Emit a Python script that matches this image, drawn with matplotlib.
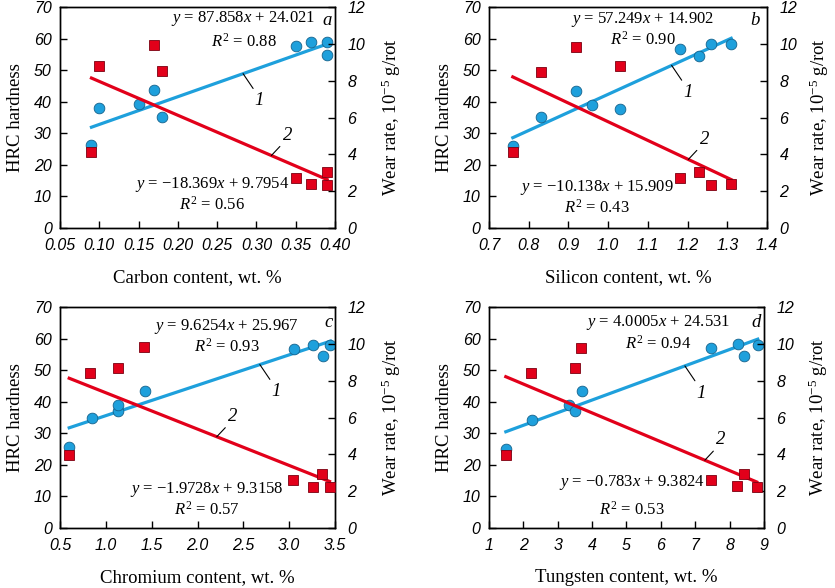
import numpy as np
import matplotlib
matplotlib.use("Agg")
import matplotlib.pyplot as plt
from matplotlib.ticker import FormatStrFormatter, MultipleLocator

plt.rcParams["font.family"] = "Liberation Serif"
plt.rcParams["mathtext.fontset"] = "custom"
plt.rcParams["mathtext.rm"] = "Liberation Serif"
plt.rcParams["mathtext.it"] = "Liberation Serif:italic"

BLUE = "#1ea0dc"
RED = "#e2001a"

# --- data ---
carbon_x_hrc = [0.09, 0.10, 0.15, 0.17, 0.18, 0.35, 0.37, 0.39, 0.39]
carbon_hrc = [26.2, 37.9, 39.3, 43.6, 35.2, 57.5, 58.8, 58.8, 54.8]
carbon_x_wear = [0.09, 0.10, 0.17, 0.18, 0.35, 0.37, 0.39, 0.39]
carbon_wear = [4.13, 8.81, 9.94, 8.54, 2.70, 2.37, 3.02, 2.35]

silicon_x_hrc = [0.76, 0.83, 0.92, 0.96, 1.03, 1.18, 1.23, 1.26, 1.31]
silicon_hrc = [26.1, 35.1, 43.5, 39.1, 37.7, 56.8, 54.5, 58.4, 58.3]
silicon_x_wear = [0.76, 0.83, 0.92, 1.03, 1.18, 1.23, 1.26, 1.31]
silicon_wear = [4.11, 8.48, 9.83, 8.80, 2.69, 3.03, 2.35, 2.38]

chromium_x_hrc = [0.60, 0.85, 1.13, 1.13, 1.43, 3.05, 3.26, 3.37, 3.45]
chromium_hrc = [25.6, 34.8, 37.1, 38.9, 43.3, 56.8, 58.0, 54.5, 58.0]
chromium_x_wear = [0.60, 0.83, 1.13, 1.42, 3.04, 3.26, 3.36, 3.44]
chromium_wear = [3.95, 8.44, 8.67, 9.81, 2.61, 2.25, 2.93, 2.25]

tungsten_x_hrc = [1.49, 2.24, 3.32, 3.50, 3.70, 7.47, 8.25, 8.42, 8.82]
tungsten_hrc = [25.1, 34.3, 38.9, 37.2, 43.3, 57.1, 58.2, 54.4, 58.0]
tungsten_x_wear = [1.49, 2.22, 3.50, 3.67, 7.45, 8.23, 8.43, 8.79]
tungsten_wear = [3.95, 8.40, 8.67, 9.77, 2.61, 2.29, 2.93, 2.25]

# linear fits: hardness (1) and wear rate (2)
hrc_slope = [87.858, 57.249, 9.6254, 4.0005]
hrc_icpt = [24.021, -14.902, 25.967, 24.531]
wear_slope = [-18.369, -10.138, -1.9728, -0.783]
wear_icpt = [9.7954, 15.909, 9.3158, 9.3824]

hrc_eq = ["$y$ = 87.858$x$ + 24.021", "$y$ = 57.249$x$ + 14.902",
          "$y$ = 9.6254$x$ + 25.967", "$y$ = 4.0005$x$ + 24.531"]
hrc_r2 = ["0.88", "0.90", "0.93", "0.94"]
wear_eq = ["$y$ = \u221218.369$x$ + 9.7954", "$y$ = \u221210.138$x$ + 15.909",
           "$y$ = \u22121.9728$x$ + 9.3158", "$y$ = \u22120.783$x$ + 9.3824"]
wear_r2 = ["0.56", "0.43", "0.57", "0.53"]

xlabels = ["Carbon content, wt. %", "Silicon content, wt. %",
           "Chromium content, wt. %", "Tungsten content, wt. %"]
letters = ["a", "b", "c", "d"]
xlims = [(0.05, 0.40), (0.7, 1.4), (0.5, 3.5), (1, 9)]
xsteps = [0.05, 0.1, 0.5, 1]
xfmts = ["%.2f", "%.1f", "%.1f", "%d"]

x_hrc = [carbon_x_hrc, silicon_x_hrc, chromium_x_hrc, tungsten_x_hrc]
y_hrc = [carbon_hrc, silicon_hrc, chromium_hrc, tungsten_hrc]
x_wear = [carbon_x_wear, silicon_x_wear, chromium_x_wear, tungsten_x_wear]
y_wear = [carbon_wear, silicon_wear, chromium_wear, tungsten_wear]

# layout / label placement (axes fractions, offsets in points)
positions = [[0.0719, 0.6122, 0.3293, 0.3759], [0.5856, 0.6122, 0.3329, 0.3759],
             [0.0719, 0.1020, 0.3293, 0.3759], [0.5856, 0.1020, 0.3293, 0.3759]]
top_eq_pos = [(0.667, 0.947, 0.845), (0.554, 0.944, 0.850),
              (0.606, 0.912, 0.819), (0.614, 0.928, 0.833)]
bot_eq_pos = [(0.553, 0.199, 0.106), (0.389, 0.183, 0.090),
              (0.533, 0.176, 0.083), (0.521, 0.207, 0.083)]
letter_pos = [(0.973, 0.94), (0.958, 0.94), (0.976, 0.928), (0.971, 0.928)]
lead1_x = [0.283, 1.160, 2.68, 6.70]
lead2_x = [0.319, 1.202, 2.21, 7.28]
lead1_off = (11.5, -13.5)
lead2_off = (11.5, 8.5)
right_pad = [10, 7.5, 10, 9]

fig = plt.figure(figsize=(8.35, 5.88), dpi=100)

for i in range(4):
    ax = fig.add_axes(positions[i])
    ax2 = ax.twinx()

    xs = np.array([min(x_hrc[i]), max(x_hrc[i])])
    ax.plot(xs, hrc_slope[i] * xs + hrc_icpt[i], color=BLUE, lw=2.3, zorder=2)
    ax.plot(x_hrc[i], y_hrc[i], "o", ms=7.7, mfc=BLUE, mec="#15628c", mew=0.6, zorder=3)

    xw = np.array([min(x_wear[i]), max(x_wear[i])])
    ax2.plot(xw, wear_slope[i] * xw + wear_icpt[i], color=RED, lw=2.3, zorder=2)
    ax2.plot(x_wear[i], y_wear[i], "s", ms=6.5, mfc=RED, mec="#7a0010", mew=0.6, zorder=3)

    ax.set_xlim(*xlims[i])
    ax.set_ylim(0, 70)
    ax2.set_ylim(0, 12)
    ax.xaxis.set_major_locator(MultipleLocator(xsteps[i]))
    ax.xaxis.set_major_formatter(FormatStrFormatter(xfmts[i]))
    ax.yaxis.set_major_locator(MultipleLocator(10))
    ax2.yaxis.set_major_locator(MultipleLocator(2))

    ax.tick_params(axis="x", direction="in", length=5, width=1, pad=7, top=False)
    ax.tick_params(axis="y", direction="in", length=5, width=1, pad=6, right=False)
    ax2.tick_params(axis="y", direction="in", length=5, width=1, pad=9)
    for lab in ax.get_xticklabels() + ax.get_yticklabels() + ax2.get_yticklabels():
        lab.set_fontfamily("Liberation Sans")
        lab.set_fontstyle("italic")
        lab.set_fontsize(11.5)
    for a in (ax, ax2):
        for sp in a.spines.values():
            sp.set_linewidth(1)

    ax.set_xlabel(xlabels[i], fontsize=13.5, labelpad=12)
    ax.set_ylabel("HRC hardness", fontsize=13.5, labelpad=7)
    ax2.set_ylabel("Wear rate, 10$^{-5}$ g/rot", fontsize=13.5, labelpad=right_pad[i])

    tx, ty1, ty2 = top_eq_pos[i]
    ax.text(tx, ty1, hrc_eq[i], transform=ax.transAxes, ha="center", va="center", fontsize=12)
    ax.text(tx, ty2, "$R^2$ = " + hrc_r2[i], transform=ax.transAxes, ha="center", va="center", fontsize=12)
    bx, by1, by2 = bot_eq_pos[i]
    ax.text(bx, by1, wear_eq[i], transform=ax.transAxes, ha="center", va="center", fontsize=12)
    ax.text(bx, by2, "$R^2$ = " + wear_r2[i], transform=ax.transAxes, ha="center", va="center", fontsize=12)
    ax.text(letter_pos[i][0], letter_pos[i][1], letters[i], transform=ax.transAxes,
            ha="center", va="center", fontsize=13.5, style="italic")

    # curve labels with leader lines
    x1 = lead1_x[i]
    ax.annotate("1", xy=(x1, hrc_slope[i] * x1 + hrc_icpt[i]), xytext=lead1_off,
                textcoords="offset points", ha="center", va="top", fontsize=13.5, style="italic",
                arrowprops=dict(arrowstyle="-", lw=0.8, color="black", shrinkA=1, shrinkB=0,
                                relpos=(0.15, 1.0)), zorder=5)
    x2 = lead2_x[i]
    ax2.annotate("2", xy=(x2, wear_slope[i] * x2 + wear_icpt[i]), xytext=lead2_off,
                 textcoords="offset points", ha="center", va="bottom", fontsize=13.5, style="italic",
                 arrowprops=dict(arrowstyle="-", lw=0.8, color="black", shrinkA=0, shrinkB=0,
                                 relpos=(0.15, 0.1)), zorder=5)

fig.savefig("out.png", dpi=100)
